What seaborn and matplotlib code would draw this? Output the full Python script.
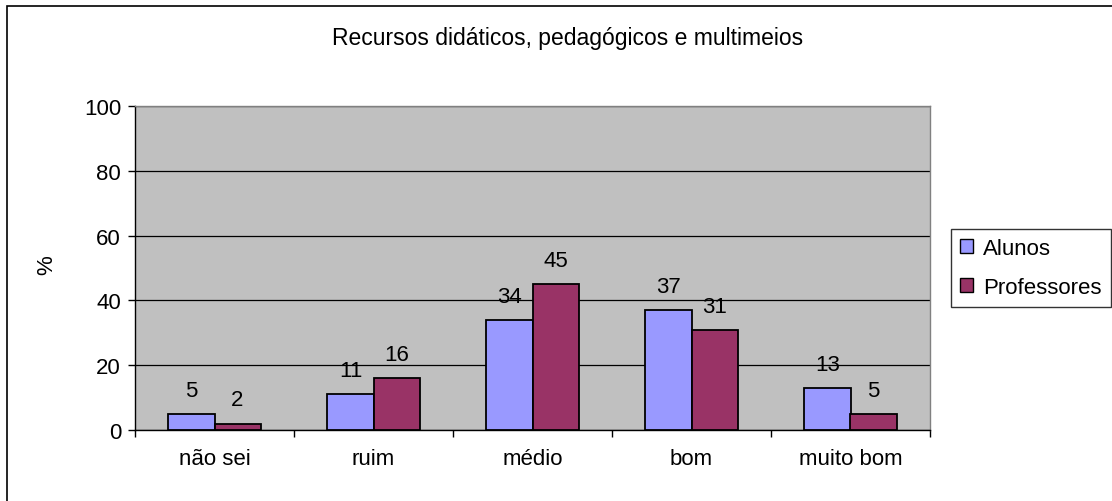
import matplotlib
matplotlib.use('Agg')
import matplotlib.pyplot as plt
from matplotlib.patches import Rectangle
import seaborn as sns
import pandas as pd

# dados
categorias = ['não sei', 'ruim', 'médio', 'bom', 'muito bom']
alunos = [5, 11, 34, 37, 13]
professores = [2, 16, 45, 31, 5]
series = ['Alunos', 'Professores']
cores = ['#9999FF', '#993366']

df = pd.DataFrame({
    'categoria': categorias * 2,
    'valor': alunos + professores,
    'grupo': [series[0]] * len(categorias) + [series[1]] * len(categorias),
})

sns.set_theme(style='white')
plt.rcParams['font.family'] = ['Liberation Sans', 'DejaVu Sans']
plt.rcParams['text.color'] = 'black'
plt.rcParams['axes.labelcolor'] = 'black'
plt.rcParams['xtick.color'] = 'black'
plt.rcParams['ytick.color'] = 'black'
fs = 16

fig = plt.figure(figsize=(11.12, 5.02), dpi=100)
ax = fig.add_axes([135 / 1112, 71 / 502, 795 / 1112, 324 / 502])
ax.set_facecolor('#C0C0C0')

sns.barplot(data=df, x='categoria', y='valor', hue='grupo', palette=cores,
            width=0.58, edgecolor='black', linewidth=1.3, saturation=1,
            ax=ax, zorder=3)

# rotulos em cima das barras
for cont in ax.containers:
    for barra in cont:
        h = barra.get_height()
        ax.annotate(f'{h:.0f}', (barra.get_x() + barra.get_width() / 2, h),
                    xytext=(0, 13), textcoords='offset points',
                    ha='center', va='baseline', fontsize=fs, zorder=4)

ax.set_ylim(0, 100)
ax.set_xlim(-0.5, 4.5)
ax.set_yticks([0, 20, 40, 60, 80, 100])
ax.yaxis.grid(True, color='black', linewidth=0.9, zorder=0)
ax.set_axisbelow(True)
ax.tick_params(axis='y', labelsize=fs, length=5, width=1, direction='out',
               left=True, color='black', labelcolor='black', pad=5)
# marcas entre as categorias, rotulos no centro
ax.set_xticks([-0.5, 0.5, 1.5, 2.5, 3.5, 4.5])
ax.set_xticklabels([])
ax.tick_params(axis='x', which='major', length=5, width=1, direction='out',
               bottom=True, color='black')
ax.set_xticks(range(5), minor=True)
ax.set_xticklabels(categorias, minor=True)
ax.tick_params(axis='x', which='minor', length=0, labelsize=fs, pad=13,
               labelcolor='black')
for s in ['top', 'right']:
    ax.spines[s].set_color('#808080')
for s in ['left', 'bottom']:
    ax.spines[s].set_color('black')
for s in ax.spines.values():
    s.set_linewidth(1)
ax.set_xlabel('')
ax.set_ylabel('')
fig.text(47 / 1112, 1 - 265 / 502, '%', rotation=90, ha='center', va='center',
         fontsize=fs)

fig.text(568 / 1112, 1 - 38 / 502, 'Recursos didáticos, pedagógicos e multimeios',
         ha='center', va='center', fontsize=16.5)

handles, labels = ax.get_legend_handles_labels()
leg = ax.legend(handles, labels, loc='center left',
                bbox_to_anchor=((951 - 135) / 795, 0.5),
                fontsize=fs, frameon=True, fancybox=False, edgecolor='black',
                handlelength=0.6, handleheight=0.6, handletextpad=0.45,
                borderpad=0.4, labelspacing=0.8, borderaxespad=0)
leg.get_frame().set_linewidth(1)
for hnd in leg.legend_handles:
    hnd.set_edgecolor('black')
    hnd.set_linewidth(1)

fig.patches.append(Rectangle((7 / 1112, -0.02), 1.05, 1 - 7 / 502 + 0.02,
                             transform=fig.transFigure, fill=False,
                             edgecolor='black', linewidth=1.2))

fig.savefig('out.png', dpi=100, facecolor='white')
